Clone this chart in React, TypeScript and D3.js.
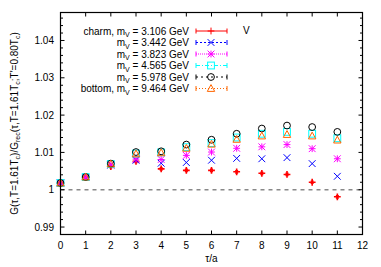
import React from 'react';
import * as d3 from 'd3';

const tau = [0, 1, 2, 3, 4, 5, 6, 7, 8, 9, 10, 11];

const charm = [1.0018, 1.0033, 1.0062, 1.0076, 1.0056, 1.0052, 1.0052, 1.0048, 1.0044, 1.0041, 1.0020, 0.9981];
const m3442 = [1.0018, 1.0033, 1.0066, 1.0079, 1.0071, 1.0073, 1.0079, 1.0084, 1.0083, 1.0086, 1.0070, 1.0036];
const m3823 = [1.0018, 1.0033, 1.0067, 1.0082, 1.0081, 1.0092, 1.0101, 1.0111, 1.0115, 1.0121, 1.0110, 1.0083];
const m4565 = [1.0018, 1.0034, 1.0069, 1.0097, 1.0100, 1.0114, 1.0125, 1.0140, 1.0150, 1.0155, 1.0150, 1.0138];
const m5978 = [1.0018, 1.0034, 1.0070, 1.0101, 1.0103, 1.0121, 1.0134, 1.0150, 1.0164, 1.0172, 1.0168, 1.0155];
const bottom = [1.0018, 1.0034, 1.0069, 1.0096, 1.0099, 1.0111, 1.0122, 1.0135, 1.0144, 1.0148, 1.0144, 1.0133];

const charmErr = [0.0002, 0.0002, 0.0003, 0.0003, 0.0003, 0.0003, 0.0003, 0.0003, 0.0003, 0.0003, 0.0003, 0.0003];

const xTicks = [0, 1, 2, 3, 4, 5, 6, 7, 8, 9, 10, 11, 12];
const yTicks = [0.99, 1, 1.01, 1.02, 1.03, 1.04];
const yTickLabels = ['0.99', '1', '1.01', '1.02', '1.03', '1.04'];

type Series = {
  label: string;
  values: number[];
  errors: number[] | null;
  color: string;
  shape: string;
  dash: string;
};

const series: Series[] = [
  { label: 'charm, m', values: charm, errors: charmErr, color: '#ff0000', shape: 'plus', dash: '' },
  { label: 'm', values: m3442, errors: null, color: '#0000ff', shape: 'cross', dash: '2,2' },
  { label: 'm', values: m3823, errors: null, color: '#ff00ff', shape: 'star', dash: '1,1' },
  { label: 'm', values: m4565, errors: null, color: '#00ffff', shape: 'square', dash: '4,2,1,2' },
  { label: 'm', values: m5978, errors: null, color: '#000000', shape: 'circle', dash: '2,3' },
  { label: 'bottom, m', values: bottom, errors: null, color: '#ff6600', shape: 'triangle', dash: '1,2' },
];
const masses = ['3.106', '3.442', '3.823', '4.565', '5.978', '9.464'];

const W = 381;
const H = 267;
const L = 60.5;
const R = 362.5;
const T = 12.5;
const B = 234.5;

const x = d3.scaleLinear().domain([0, 12]).range([L, R]);
const y = d3.scaleLinear().domain([0.988, 1.0475]).range([B, T]);

const FONT = '"Liberation Sans", Arial, sans-serif';

function Marker({ shape, cx, cy, color, bold }: { shape: string; cx: number; cy: number; color: string; bold?: boolean }) {
  const s = 3.4;
  const common = { stroke: color, strokeWidth: bold ? 1.6 : 1, fill: 'none' };
  if (shape === 'plus') {
    return <path d={`M${cx - s},${cy}H${cx + s}M${cx},${cy - s}V${cy + s}`} {...common} />;
  }
  if (shape === 'cross') {
    return <path d={`M${cx - s},${cy - s}L${cx + s},${cy + s}M${cx - s},${cy + s}L${cx + s},${cy - s}`} {...common} />;
  }
  if (shape === 'star') {
    return (
      <path
        d={`M${cx - s},${cy}H${cx + s}M${cx},${cy - s}V${cy + s}M${cx - s},${cy - s}L${cx + s},${cy + s}M${cx - s},${cy + s}L${cx + s},${cy - s}`}
        {...common}
      />
    );
  }
  if (shape === 'square') {
    return <rect x={cx - s} y={cy - s} width={2 * s} height={2 * s} {...common} />;
  }
  if (shape === 'circle') {
    return <circle cx={cx} cy={cy} r={s} {...common} />;
  }
  return <path d={`M${cx},${cy - s - 0.5}L${cx + s + 0.3},${cy + s - 0.5}H${cx - s - 0.3}Z`} {...common} />;
}

export default function App() {
  const minorY = d3.range(0.988, 1.0476, 0.002).filter((v) => Math.abs(v * 100 - Math.round(v * 100)) > 1e-6);
  const legendY = (i: number) => 31 + i * 11.5;

  return (
    <svg width={W} height={H} style={{ position: 'absolute', left: 0, top: 0, background: '#fff' }} fontFamily={FONT}>
      <rect width={W} height={H} fill="#fff" />

      {/* reference line */}
      <line x1={L} x2={R} y1={y(1)} y2={y(1)} stroke="#888" strokeWidth={1.3} strokeDasharray="4,4" />

      {/* ticks */}
      {xTicks.map((t) => (
        <g key={`xt${t}`}>
          <line x1={x(t)} x2={x(t)} y1={B} y2={B - 4} stroke="#000" />
          <line x1={x(t)} x2={x(t)} y1={T} y2={T + 4} stroke="#000" />
          <text x={x(t)} y={249} fontSize={10} textAnchor="middle">{t}</text>
        </g>
      ))}
      {yTicks.map((t, i) => (
        <g key={`yt${t}`}>
          <line x1={L} x2={L + 4} y1={y(t)} y2={y(t)} stroke="#000" />
          <line x1={R} x2={R - 4} y1={y(t)} y2={y(t)} stroke="#000" />
          <text x={54} y={y(t) + 3.5} fontSize={10} textAnchor="end">{yTickLabels[i]}</text>
        </g>
      ))}
      {minorY.map((t) => (
        <g key={`ym${t}`}>
          <line x1={L} x2={L + 2.5} y1={y(t)} y2={y(t)} stroke="#000" />
          <line x1={R} x2={R - 2.5} y1={y(t)} y2={y(t)} stroke="#000" />
        </g>
      ))}

      {/* data */}
      {series.map((s, si) => (
        <g key={`s${si}`}>
          {s.values.map((v, i) => {
            const cx = x(tau[i]);
            const cy = y(v);
            const e = s.errors ? s.errors[i] : 0;
            return (
              <g key={i}>
                {e > 0 && (
                  <path
                    d={`M${cx},${y(v - e)}V${y(v + e)}M${cx - 1.5},${y(v - e)}H${cx + 1.5}M${cx - 1.5},${y(v + e)}H${cx + 1.5}`}
                    stroke={s.color}
                    strokeWidth={1.4}
                    fill="none"
                  />
                )}
                <Marker shape={s.shape} cx={cx} cy={cy} color={s.color} bold={si === 0} />
              </g>
            );
          })}
        </g>
      ))}

      {/* frame */}
      <rect x={L} y={T} width={R - L} height={B - T} fill="none" stroke="#000" strokeWidth={1.2} />

      {/* legend */}
      {series.map((s, i) => {
        const ly = legendY(i);
        return (
          <g key={`lg${i}`}>
            <text x={189} y={ly + 3.5} fontSize={10} textAnchor="end">
              {s.label}
              <tspan fontSize={7} dy={2.5}>V</tspan>
              <tspan dy={-2.5}>{` = ${masses[i]} GeV`}</tspan>
            </text>
            <line x1={196} x2={227} y1={ly} y2={ly} stroke={s.color} strokeDasharray={s.dash} />
            <line x1={196} x2={196} y1={ly - 2.5} y2={ly + 2.5} stroke={s.color} />
            <line x1={227} x2={227} y1={ly - 2.5} y2={ly + 2.5} stroke={s.color} />
            <Marker shape={s.shape} cx={211} cy={ly} color={s.color} />
          </g>
        );
      })}
      <text x={243} y={34} fontSize={10}>V</text>

      {/* axis labels */}
      <text x={(L + R) / 2} y={262} fontSize={10} textAnchor="middle">τ/a</text>
      <text transform={`translate(18,${(T + B) / 2}) rotate(-90)`} fontSize={10} textAnchor="middle">
        G(τ,T=1.61T<tspan fontSize={7} dy={2}>c</tspan>
        <tspan dy={-2}>)/G</tspan>
        <tspan fontSize={7} dy={2}>rec</tspan>
        <tspan dy={-2}>(τ,T=1.61T</tspan>
        <tspan fontSize={7} dy={2}>c</tspan>
        <tspan dy={-2}>;T'=0.80T</tspan>
        <tspan fontSize={7} dy={2}>c</tspan>
        <tspan dy={-2}>)</tspan>
      </text>
    </svg>
  );
}
